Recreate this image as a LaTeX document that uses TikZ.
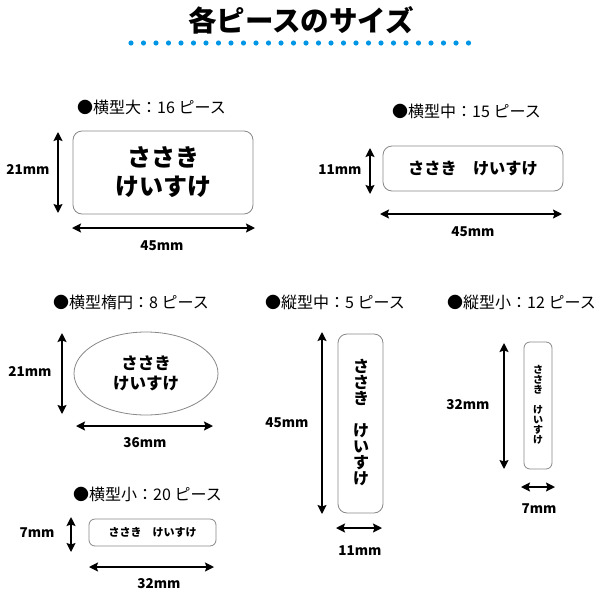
\documentclass[tikz,border=0pt]{standalone}
\usepackage{fontspec}
\setmainfont{Noto Sans CJK JP}
\usetikzlibrary{arrows.meta,shapes.geometric}
\definecolor{dotblue}{RGB}{0,150,230}
\definecolor{edgegray}{RGB}{135,135,135}

\begin{document}
\begin{tikzpicture}[x=1pt,y=-1pt,line join=round,>={Stealth[length=9pt,width=9pt,inset=1.5pt]}]
  \tikzset{
    piece/.style={draw=edgegray,line width=0.8pt,rounded corners=9pt,inner sep=0pt,align=center},
    oval/.style={ellipse,draw=edgegray,line width=0.8pt,inner sep=0pt,align=center},
    kind/.style={font=\fontsize{16}{16}\selectfont,anchor=west,inner sep=0pt},
    size/.style={font=\bfseries\fontsize{13.5}{13.5}\selectfont,inner sep=0pt},
    dim/.style={<->,line width=1.5pt}
  }
  \useasboundingbox (0,0) rectangle (600,600);
  % title
  \node[font=\bfseries\fontsize{28.5}{28.5}\selectfont,inner sep=0pt] (title) at (301,20) {各ピースのサイズ};
  \foreach \i in {0,...,27}
    \fill[dotblue] (131+12.5*\i,43) circle (2.6pt);

  % 横型大
  \node[kind] (kind1) at (77,107) {●横型大：16 ピース};
  \node[piece,minimum width=180pt,minimum height=83pt,font=\bfseries\fontsize{24}{29}\selectfont] (big) at (163,172.5)
    {ささき\\けいすけ};
  \coordinate (big v1) at (58,132); \coordinate (big v2) at (58,213);
  \coordinate (big h1) at (72,228); \coordinate (big h2) at (255,228);
  \draw[dim] (big v1) -- (big v2);
  \draw[dim] (big h1) -- (big h2);
  \node[size] (big hgt) at (28,170) {21mm};
  \node[size] (big wid) at (162,246) {45mm};

  % 横型中
  \node[kind] (kind2) at (392,111) {●横型中：15 ピース};
  \node[piece,minimum width=180pt,minimum height=45pt,font=\bfseries\fontsize{16.2}{16.2}\selectfont] (mid) at (473,168.5)
    {ささき　けいすけ};
  \coordinate (mid v1) at (370,148); \coordinate (mid v2) at (370,194);
  \coordinate (mid h1) at (380,214); \coordinate (mid h2) at (562,214);
  \draw[dim] (mid v1) -- (mid v2);
  \draw[dim] (mid h1) -- (mid h2);
  \node[size] (mid hgt) at (340,170) {11mm};
  \node[size] (mid wid) at (473,232) {45mm};

  % 横型楕円
  \node[kind] (kind3) at (53,302) {●横型楕円：8 ピース};
  \node[oval,minimum width=144pt,minimum height=83pt,font=\bfseries\fontsize{16.5}{20}\selectfont] (ell) at (146,373.5)
    {ささき\\けいすけ};
  \coordinate (ell v1) at (62,333); \coordinate (ell v2) at (62,414);
  \coordinate (ell h1) at (76,426); \coordinate (ell h2) at (213,426);
  \draw[dim] (ell v1) -- (ell v2);
  \draw[dim] (ell h1) -- (ell h2);
  \node[size] (ell hgt) at (30,371) {21mm};
  \node[size] (ell wid) at (145,443) {36mm};

  % 横型小
  \node[kind] (kind4) at (73,494) {●横型小：20 ピース};
  \node[piece,rounded corners=6pt,minimum width=127pt,minimum height=27pt,font=\bfseries\fontsize{11}{11}\selectfont] (small) at (152.5,532.5)
    {ささき　けいすけ};
  \coordinate (small v1) at (71,517); \coordinate (small v2) at (71,552);
  \coordinate (small h1) at (89,567); \coordinate (small h2) at (214,567);
  \draw[dim] (small v1) -- (small v2);
  \draw[dim] (small h1) -- (small h2);
  \node[size] (small hgt) at (37,533) {7mm};
  \node[size] (small wid) at (159,584) {32mm};

  % 縦型中
  \node[kind] (kind5) at (265,302) {●縦型中：5 ピース};
  \node[piece,minimum width=45pt,minimum height=179pt] (tmid) at (360.5,423.5) {};
  \node[font=\bfseries\fontsize{16}{16}\selectfont,align=center,inner sep=0pt] (tmid txt) at (361,423)
    {さ\\さ\\き\\　\\け\\い\\す\\け};
  \coordinate (tmid v1) at (322,332); \coordinate (tmid v2) at (322,514);
  \coordinate (tmid h1) at (336,528); \coordinate (tmid h2) at (382,528);
  \draw[dim] (tmid v1) -- (tmid v2);
  \draw[dim] (tmid h1) -- (tmid h2);
  \node[size] (tmid hgt) at (287,423) {45mm};
  \node[size] (tmid wid) at (360,551) {11mm};

  % 縦型小
  \node[kind] (kind6) at (447,302) {●縦型小：12 ピース};
  \node[piece,rounded corners=6pt,minimum width=28pt,minimum height=127pt] (tsmall) at (538,405.5) {};
  \node[font=\bfseries\fontsize{10}{10}\selectfont,align=center,inner sep=0pt] (tsmall txt) at (538,405)
    {さ\\さ\\き\\　\\け\\い\\す\\け};
  \coordinate (tsmall v1) at (504,343); \coordinate (tsmall v2) at (504,469);
  \coordinate (tsmall h1) at (521,487); \coordinate (tsmall h2) at (555,487);
  \draw[dim] (tsmall v1) -- (tsmall v2);
  \draw[dim] (tsmall h1) -- (tsmall h2);
  \node[size] (tsmall hgt) at (468,405) {32mm};
  \node[size] (tsmall wid) at (539,509) {7mm};
\end{tikzpicture}
\end{document}
